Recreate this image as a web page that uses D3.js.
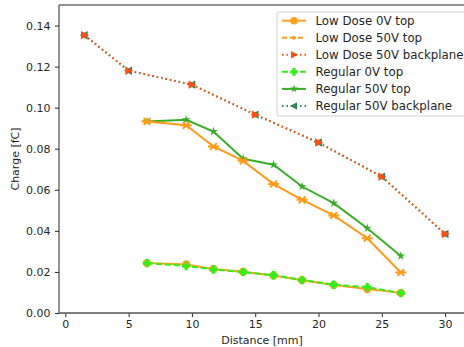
<!DOCTYPE html>
<html><head><meta charset="utf-8">
<script src="https://cdn.jsdelivr.net/npm/d3@7"></script>
<style>body{margin:0;background:#fff}svg{display:block;font-family:"DejaVu Sans",sans-serif}</style>
</head><body>
<svg id="c" width="464" height="347"></svg>
<script>
const xBack = [1.5, 5, 10, 15, 20, 25, 30];
const xTop = [6.45, 9.55, 11.7, 14.05, 16.45, 18.7, 21.2, 23.85, 26.5];
const lowDose0V = [0.0243, 0.0236, 0.0214, 0.0201, 0.0183, 0.0160, 0.0136, 0.0117, 0.0098];
const lowDose50V = [0.0933, 0.0914, 0.0811, 0.0741, 0.0628, 0.0551, 0.0475, 0.0364, 0.0197];
const lowDoseBack = [0.1353, 0.1180, 0.1112, 0.0966, 0.0830, 0.0664, 0.0385];
const regular0V = [0.0243, 0.0229, 0.0212, 0.0199, 0.0184, 0.0161, 0.0138, 0.0126, 0.0097];
const regular50V = [0.0933, 0.0941, 0.0884, 0.0751, 0.0722, 0.0616, 0.0535, 0.0413, 0.0278];
const regularBack = [0.1353, 0.1180, 0.1112, 0.0966, 0.0830, 0.0664, 0.0385];
const xTicks = [0, 5, 10, 15, 20, 25, 30];
const yTicks = [0, 0.02, 0.04, 0.06, 0.08, 0.10, 0.12, 0.14];

const series = [
  {name:"Regular 50V backplane", x:xBack, y:regularBack, color:"#2e8b57", dash:"1.5,3", width:2, marker:"triL"},
  {name:"Low Dose 50V backplane", x:xBack, y:lowDoseBack, color:"#ff4f12", dash:"1.5,3", width:2, marker:"triR"},
  {name:"Regular 50V top", x:xTop, y:regular50V, color:"#3aad2a", dash:null, width:2, marker:"star"},
  {name:"Low Dose 50V top", x:xTop, y:lowDose50V, color:"#ff9a1a", dash:null, width:2, marker:"ast"},
  {name:"Low Dose 0V top", x:xTop, y:lowDose0V, color:"#ffa31f", dash:null, width:2, marker:"circle"},
  {name:"Regular 0V top", x:xTop, y:regular0V, color:"#33ee1a", dash:"6,3", width:2, marker:"plus"}
];
const legendOrder = [
  {name:"Low Dose 0V top", color:"#ffa31f", dash:null, marker:"circle"},
  {name:"Low Dose 50V top", color:"#ff9a1a", dash:"5,3", marker:"dot"},
  {name:"Low Dose 50V backplane", color:"#ff4f12", dash:"1.5,3", marker:"triR"},
  {name:"Regular 0V top", color:"#33ee1a", dash:"6,3", marker:"plus"},
  {name:"Regular 50V top", color:"#3aad2a", dash:null, marker:"star"},
  {name:"Regular 50V backplane", color:"#2e8b57", dash:"1.5,3", marker:"triL"}
];

const svg = d3.select("#c");
const L = 59, T = 5, B = 313, R = 466;
const x = d3.scaleLinear().domain([-0.5, 31.65]).range([L, R]);
const y = d3.scaleLinear().domain([0, 0.15]).range([B, T]);

function marker(g, type, cx, cy, color, s) {
  s = s || 4.2;
  if (type === "circle") g.append("circle").attr("cx",cx).attr("cy",cy).attr("r",s).attr("fill",color);
  else if (type === "dot") g.append("circle").attr("cx",cx).attr("cy",cy).attr("r",2).attr("fill",color);
  else if (type === "triR") g.append("path").attr("d",`M${cx+s*1.1},${cy}L${cx-s*0.8},${cy-s}L${cx-s*0.8},${cy+s}Z`).attr("fill",color);
  else if (type === "triL") g.append("path").attr("d",`M${cx-s*1.1},${cy}L${cx+s*0.8},${cy-s}L${cx+s*0.8},${cy+s}Z`).attr("fill",color);
  else if (type === "plus") g.append("path").attr("d",`M${cx-s},${cy-1.6}h${s-1.6}v${-(s-1.6)}h3.2v${s-1.6}h${s-1.6}v3.2h${-(s-1.6)}v${s-1.6}h-3.2v${-(s-1.6)}h${-(s-1.6)}Z`).attr("fill",color);
  else if (type === "star") {
    const pts = [];
    for (let i=0;i<10;i++){const a=-Math.PI/2+i*Math.PI/5; const r=i%2?s*0.42:s*1.1; pts.push([cx+r*Math.cos(a), cy+r*Math.sin(a)]);}
    g.append("path").attr("d","M"+pts.map(p=>p.join(",")).join("L")+"Z").attr("fill",color);
  } else if (type === "ast") {
    g.append("path").attr("d",`M${cx-s*1.3},${cy}h${s*2.6}M${cx-s*0.8},${cy-s*0.8}L${cx+s*0.8},${cy+s*0.8}M${cx-s*0.8},${cy+s*0.8}L${cx+s*0.8},${cy-s*0.8}`).attr("stroke",color).attr("stroke-width",2).attr("fill","none");
  }
}

const line = d3.line().x(d=>x(d[0])).y(d=>y(d[1]));
const plot = svg.append("g");
series.forEach(s => {
  const pts = s.x.map((v,i)=>[v, s.y[i]]);
  plot.append("path").datum(pts).attr("d", line).attr("fill","none")
    .attr("stroke", s.color).attr("stroke-width", s.width).attr("stroke-dasharray", s.dash);
  pts.forEach(p => marker(plot, s.marker, x(p[0]), y(p[1]), s.color));
});

// axes
const FS = 11;
const xa = svg.append("g").attr("transform",`translate(0,${B})`).call(d3.axisBottom(x).tickValues(xTicks).tickFormat(d3.format("d")).tickSize(4).tickPadding(3));
const ya = svg.append("g").attr("transform",`translate(${L},0)`).call(d3.axisLeft(y).tickValues(yTicks).tickFormat(d3.format(".2f")).tickSize(4).tickPadding(4.5));
[xa, ya].forEach(a => {
  a.selectAll("text").attr("font-size", FS).attr("fill","#262626").attr("font-family","DejaVu Sans");
  a.selectAll("line").attr("stroke","#262626");
  a.select(".domain").remove();
});
svg.append("line").attr("x1",L).attr("x2",L).attr("y1",T).attr("y2",B).attr("stroke","#262626");
svg.append("line").attr("x1",L).attr("x2",R).attr("y1",B).attr("y2",B).attr("stroke","#555").attr("stroke-width",1.3);
svg.append("line").attr("x1",L).attr("x2",R).attr("y1",T).attr("y2",T).attr("stroke","#262626");

svg.append("text").attr("x", 262).attr("y", 344).attr("text-anchor","middle").attr("font-size",FS).attr("fill","#262626").text("Distance [mm]");
svg.append("text").attr("transform","translate(19,159) rotate(-90)").attr("text-anchor","middle").attr("font-size",FS).attr("fill","#262626").text("Charge [fC]");

// legend
const lg = svg.append("g");
lg.append("rect").attr("x",277).attr("y",12).attr("width",195).attr("height",104).attr("rx",2.5).attr("fill","white").attr("fill-opacity",0.85).attr("stroke","#d0d0d0");
legendOrder.forEach((d,i) => {
  const cy = 20.7 + i*17.05;
  lg.append("line").attr("x1",282).attr("x2",306).attr("y1",cy).attr("y2",cy).attr("stroke",d.color).attr("stroke-width",2).attr("stroke-dasharray",d.dash);
  marker(lg, d.marker, 294, cy, d.color, 3.8);
  lg.append("text").attr("x",315.5).attr("y",cy+4.2).attr("font-size",11.8).attr("fill","#262626").text(d.name);
});
</script>
</body></html>
